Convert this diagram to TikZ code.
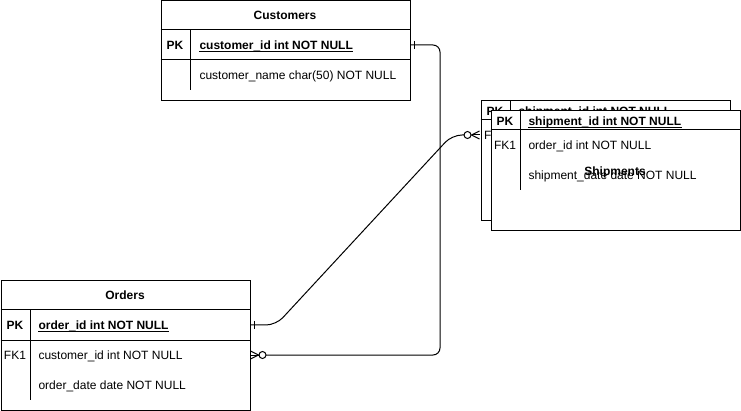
\documentclass[tikz,border=0pt]{standalone}
\usepackage{fontspec}
\setmainfont{Liberation Sans}
\begin{document}
\begin{tikzpicture}[x=1pt,y=-1pt,line width=1pt,
  ent/.style={draw, fill=white, anchor=north west, inner sep=0pt, minimum width=249.5pt},
  rowa/.style={inner sep=0pt, minimum width=250pt, minimum height=30pt},
  txt/.style={inner sep=0pt, anchor=base west, font=\fontsize{12}{14}\selectfont},
  btxt/.style={inner sep=0pt, anchor=base west, font=\fontsize{12}{14}\selectfont\bfseries},
  key/.style={inner sep=0pt, anchor=base, font=\fontsize{12}{14}\selectfont},
  bkey/.style={inner sep=0pt, anchor=base, font=\fontsize{12}{14}\selectfont\bfseries},
  uline/.style={line width=0.8pt},
  ]
\useasboundingbox (0,0) rectangle (741,411);

% ---------- Customers ----------
\node[ent, minimum height=99.5pt] (cust) at (160.5,0.5) {};
\draw (160.5,30) -- (410,30);
\draw (160.5,60) -- (410,60);
\draw (190,30) -- (190,90);
\node[bkey] (custT) at (285,19.3) {Customers};
\node[bkey] (cpkk) at (175,49.3) {PK};
\node[btxt] (cpkt) at (199,49.3) {customer\_id int NOT NULL};
\draw[uline] ([yshift=-1.8pt]cpkt.base west) -- ([yshift=-1.8pt]cpkt.base east);
\node[txt] (cnt) at (199,79.3) {customer\_name char(50) NOT NULL};
\node[rowa] (cpk) at (285,45) {};

% ---------- Shipments (back copy) ----------
\node[ent, minimum height=119.5pt] (shipB) at (480.5,100.5) {};
\draw (480.5,120) -- (730,120);
\draw (510,100.5) -- (510,180);
\node[bkey] (sbpkk) at (495,115.3) {PK};
\node[btxt] (sbpkt) at (518,115.3) {shipment\_id int NOT NULL};
\draw[uline] ([yshift=-1.8pt]sbpkt.base west) -- ([yshift=-1.8pt]sbpkt.base east);
\node[key] (sbfkk) at (495,139.3) {FK1};
\node[rowa] (sbfk) at (605,135) {};

% ---------- Shipments (front) ----------
\node[ent, minimum height=119.5pt] (shipF) at (490.5,110.5) {};
\draw (490.5,130) -- (740,130);
\draw (520,110.5) -- (520,190);
\node[bkey] (sfpkk) at (505,125.3) {PK};
\node[btxt] (sfpkt) at (528,125.3) {shipment\_id int NOT NULL};
\draw[uline] ([yshift=-1.8pt]sfpkt.base west) -- ([yshift=-1.8pt]sfpkt.base east);
\node[key] (sffkk) at (505,149.3) {FK1};
\node[txt] (sffkt) at (528,149.3) {order\_id int NOT NULL};
\node[txt] (sfdt) at (528,179.3) {shipment\_date date NOT NULL};
\node[bkey] (shipT) at (615,175.3) {Shipments};

% ---------- Orders ----------
\node[ent, minimum height=129.5pt] (ord) at (0.5,280.5) {};
\draw (0.5,310) -- (250,310);
\draw (0.5,340) -- (250,340);
\draw (30,310) -- (30,400);
\node[bkey] (ordT) at (125,299.3) {Orders};
\node[bkey] (opkk) at (15,329.3) {PK};
\node[btxt] (opkt) at (38,329.3) {order\_id int NOT NULL};
\draw[uline] ([yshift=-1.8pt]opkt.base west) -- ([yshift=-1.8pt]opkt.base east);
\node[key] (ofkk) at (15,359.3) {FK1};
\node[txt] (ofkt) at (38,359.3) {customer\_id int NOT NULL};
\node[txt] (odt) at (38,389.3) {order\_date date NOT NULL};
\node[rowa] (opk) at (125,325) {};
\node[rowa] (ofk) at (125,355) {};

% ---------- Connector: Customers -> Orders ----------
\draw[rounded corners=7pt] (cpk.east) -- (440,45) -- (440,355) -- ([xshift=15.5pt]ofk.east);
\draw ([xshift=4pt,yshift=4pt]cpk.east) -- ([xshift=4pt,yshift=-4pt]cpk.east);
\draw ([yshift=4pt]ofk.east) -- ([xshift=8pt]ofk.east) -- ([yshift=-4pt]ofk.east);
\draw (ofk.east) -- ([xshift=8pt]ofk.east);
\draw[fill=white] ([xshift=12pt]ofk.east) circle (3.5pt);

% ---------- Connector: Orders -> Shipments ----------
\draw[rounded corners=10pt] (opk.east) -- (276,325) -- (452,135) -- ([xshift=-15.5pt]sbfk.west);
\draw ([xshift=4pt,yshift=4pt]opk.east) -- ([xshift=4pt,yshift=-4pt]opk.east);
\draw ([yshift=4pt]sbfk.west) -- ([xshift=-8pt]sbfk.west) -- ([yshift=-4pt]sbfk.west);
\draw (sbfk.west) -- ([xshift=-8pt]sbfk.west);
\draw[fill=white] ([xshift=-12pt]sbfk.west) circle (3.5pt);
\end{tikzpicture}
\end{document}
